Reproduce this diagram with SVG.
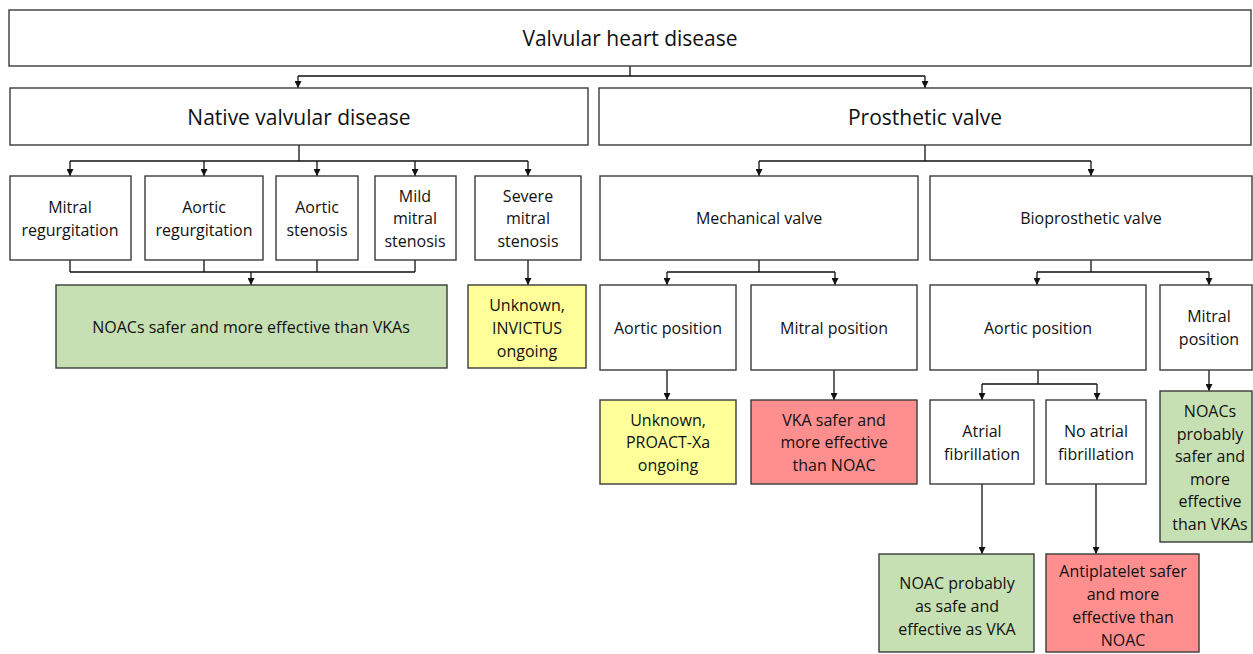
<svg xmlns="http://www.w3.org/2000/svg" width="1253" height="654" viewBox="0 0 1253 654">
<defs>
<marker id="ah" viewBox="0 0 10 10" refX="10" refY="5" markerWidth="7" markerHeight="7" markerUnits="userSpaceOnUse" orient="auto"><path d="M0,0 L10,5 L0,10 z" fill="#111"/></marker>
<style>
.b{fill:#fff;stroke:#3a3a3a;stroke-width:1.4}
.g{fill:#c6e0b4;stroke:#3a3a3a;stroke-width:1.4}
.y{fill:#ffff99;stroke:#3a3a3a;stroke-width:1.4}
.r{fill:#ff8f8f;stroke:#3a3a3a;stroke-width:1.4}
text{font-family:"Open Sans","Noto Sans",sans-serif;fill:#111;text-anchor:middle;dominant-baseline:central}
.t{font-size:16px}
.h{font-size:21px}
.c{fill:none;stroke:#111;stroke-width:1.3}
</style>
</defs>
<rect width="1253" height="654" fill="#fff"/>
<g id="connectors">
<path class="c" d="M630,66 V76 M298,76 H925"/>
<path class="c" d="M298,76 V88" marker-end="url(#ah)"/>
<path class="c" d="M925,76 V88" marker-end="url(#ah)"/>
<path class="c" d="M299,145 V161 M70,161 H528"/>
<path class="c" d="M70,161 V176" marker-end="url(#ah)"/>
<path class="c" d="M204,161 V176" marker-end="url(#ah)"/>
<path class="c" d="M317,161 V176" marker-end="url(#ah)"/>
<path class="c" d="M415,161 V176" marker-end="url(#ah)"/>
<path class="c" d="M528,161 V176" marker-end="url(#ah)"/>
<path class="c" d="M70,260 V272 M204,260 V272 M317,260 V272 M415,260 V272 M70,272 H415"/>
<path class="c" d="M251,272 V285" marker-end="url(#ah)"/>
<path class="c" d="M528,260 V285" marker-end="url(#ah)"/>
<path class="c" d="M925,145 V161 M759,161 H1091"/>
<path class="c" d="M759,161 V176" marker-end="url(#ah)"/>
<path class="c" d="M1091,161 V176" marker-end="url(#ah)"/>
<path class="c" d="M759,260 V272 M667,272 H835"/>
<path class="c" d="M667,272 V285" marker-end="url(#ah)"/>
<path class="c" d="M835,272 V285" marker-end="url(#ah)"/>
<path class="c" d="M1091,260 V272 M1037,272 H1209"/>
<path class="c" d="M1037,272 V285" marker-end="url(#ah)"/>
<path class="c" d="M1209,272 V285" marker-end="url(#ah)"/>
<path class="c" d="M667,370 V400" marker-end="url(#ah)"/>
<path class="c" d="M834,370 V400" marker-end="url(#ah)"/>
<path class="c" d="M1038,370 V384 M982,384 H1097"/>
<path class="c" d="M982,384 V400" marker-end="url(#ah)"/>
<path class="c" d="M1097,384 V400" marker-end="url(#ah)"/>
<path class="c" d="M1209,370 V391" marker-end="url(#ah)"/>
<path class="c" d="M982,484 V554" marker-end="url(#ah)"/>
<path class="c" d="M1096,484 V554" marker-end="url(#ah)"/>
</g>
<g id="n-root"><rect class="b" x="9" y="10" width="1242" height="56"/><text class="h" x="630" y="38">Valvular heart disease</text></g>
<g id="n-native"><rect class="b" x="10" y="88" width="578" height="57"/><text class="h" x="299" y="117">Native valvular disease</text></g>
<g id="n-prosthetic"><rect class="b" x="599" y="88" width="652" height="57"/><text class="h" x="925" y="117">Prosthetic valve</text></g>
<g id="n-mr"><rect class="b" x="10" y="176" width="121" height="84"/><text class="t" x="70" y="207">Mitral</text><text class="t" x="70" y="230">regurgitation</text></g>
<g id="n-ar"><rect class="b" x="145" y="176" width="118" height="84"/><text class="t" x="204" y="207">Aortic</text><text class="t" x="204" y="230">regurgitation</text></g>
<g id="n-as"><rect class="b" x="276" y="176" width="82" height="84"/><text class="t" x="317" y="207">Aortic</text><text class="t" x="317" y="230">stenosis</text></g>
<g id="n-mms"><rect class="b" x="375" y="176" width="81" height="84"/><text class="t" x="415" y="196">Mild</text><text class="t" x="415" y="218">mitral</text><text class="t" x="415" y="241">stenosis</text></g>
<g id="n-sms"><rect class="b" x="475" y="176" width="106" height="84"/><text class="t" x="528" y="196">Severe</text><text class="t" x="528" y="218">mitral</text><text class="t" x="528" y="241">stenosis</text></g>
<g id="n-noac1"><rect class="g" x="56" y="285" width="391" height="83"/><text class="t" x="251" y="327">NOACs safer and more effective than VKAs</text></g>
<g id="n-invictus"><rect class="y" x="468" y="285" width="118" height="83"/><text class="t" x="527" y="305">Unknown,</text><text class="t" x="527" y="328">INVICTUS</text><text class="t" x="527" y="351">ongoing</text></g>
<g id="n-mech"><rect class="b" x="600" y="176" width="318" height="84"/><text class="t" x="759" y="218">Mechanical valve</text></g>
<g id="n-bio"><rect class="b" x="930" y="176" width="322" height="84"/><text class="t" x="1091" y="218">Bioprosthetic valve</text></g>
<g id="n-mech-ao"><rect class="b" x="600" y="285" width="136" height="85"/><text class="t" x="668" y="328">Aortic position</text></g>
<g id="n-mech-mi"><rect class="b" x="751" y="285" width="166" height="85"/><text class="t" x="834" y="328">Mitral position</text></g>
<g id="n-bio-ao"><rect class="b" x="930" y="285" width="216" height="85"/><text class="t" x="1038" y="328">Aortic position</text></g>
<g id="n-bio-mi"><rect class="b" x="1160" y="285" width="92" height="85"/><text class="t" x="1209" y="316">Mitral</text><text class="t" x="1209" y="339">position</text></g>
<g id="n-proact"><rect class="y" x="600" y="400" width="136" height="84"/><text class="t" x="668" y="420">Unknown,</text><text class="t" x="668" y="442">PROACT-Xa</text><text class="t" x="668" y="465">ongoing</text></g>
<g id="n-vka"><rect class="r" x="751" y="400" width="166" height="84"/><text class="t" x="834" y="420">VKA safer and</text><text class="t" x="834" y="442">more effective</text><text class="t" x="834" y="465">than NOAC</text></g>
<g id="n-af"><rect class="b" x="930" y="400" width="104" height="84"/><text class="t" x="982" y="431">Atrial</text><text class="t" x="982" y="454">fibrillation</text></g>
<g id="n-noaf"><rect class="b" x="1046" y="400" width="100" height="84"/><text class="t" x="1096" y="431">No atrial</text><text class="t" x="1096" y="454">fibrillation</text></g>
<g id="n-noac-mi"><rect class="g" x="1160" y="391" width="92" height="151"/><text class="t" x="1210" y="411">NOACs</text><text class="t" x="1210" y="434">probably</text><text class="t" x="1210" y="456">safer and</text><text class="t" x="1210" y="479">more</text><text class="t" x="1210" y="501">effective</text><text class="t" x="1210" y="524">than VKAs</text></g>
<g id="n-noac-af"><rect class="g" x="879" y="554" width="155" height="98"/><text class="t" x="957" y="583">NOAC probably</text><text class="t" x="957" y="606">as safe and</text><text class="t" x="957" y="629">effective as VKA</text></g>
<g id="n-antiplatelet"><rect class="r" x="1046" y="554" width="153" height="98"/><text class="t" x="1123" y="571">Antiplatelet safer</text><text class="t" x="1123" y="594">and more</text><text class="t" x="1123" y="617">effective than</text><text class="t" x="1123" y="640">NOAC</text></g>
</svg>
